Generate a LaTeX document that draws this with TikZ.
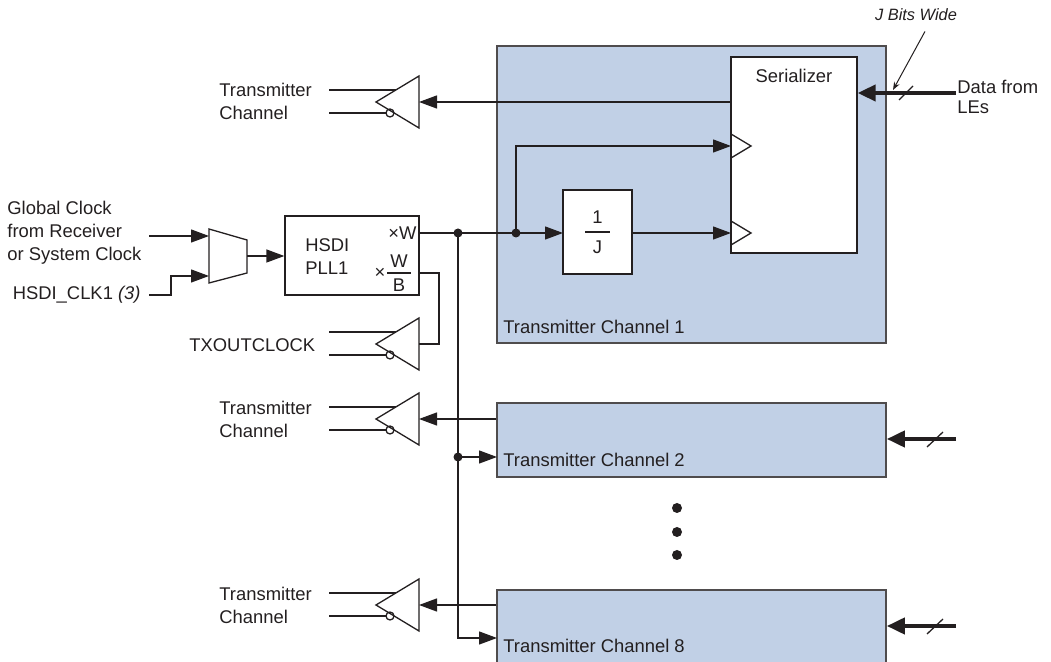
\documentclass[tikz,border=0pt]{standalone}
\usepackage{fontspec}
\setmainfont{Liberation Sans}
\usepackage{tikz}
\usetikzlibrary{shapes,arrows,arrows.meta,calc,positioning}

\definecolor{chblue}{RGB}{193,208,230}
\definecolor{ink}{RGB}{35,31,32}

\begin{document}
\begin{tikzpicture}[x=0.5pt,y=-0.5pt,color=ink,
	every node/.style={font=\fontsize{9.2}{11.5}\selectfont,text=ink,inner sep=0pt},
	wire/.style={draw=ink,line width=0.65pt},
	sig/.style={wire,-{Triangle[length=9pt,width=6.5pt]}},
	bus/.style={draw=ink,line width=2pt,-{Triangle[length=9pt,width=8pt]}},
	chan/.style={draw=ink!80,fill=chblue,line width=0.8pt,minimum width=194.5pt},
	blk/.style={draw=ink,fill=white,line width=0.65pt},
	dot/.style={circle,fill=ink,minimum size=4.5pt}]
	\useasboundingbox (0,0) rectangle (1051,662);
	% channels
	\node[chan,minimum height=148.5pt] (ch1) at (691.5,194.5) {};
	\node[chan,minimum height=37pt] (ch2) at (691.5,440) {};
	\node[chan,minimum height=37pt] (ch8) at (691.5,627) {};
	\node[anchor=west] (ch1lbl) at (503,327) {Transmitter Channel 1};
	\node[anchor=west] (ch2lbl) at (503,460) {Transmitter Channel 2};
	\node[anchor=west] (ch8lbl) at (503,646) {Transmitter Channel 8};
	\foreach \y in {508,532,555}
		\node[dot,minimum size=5pt] (vd\y) at (677,\y) {};
	% serializer and divider
	\node[blk,minimum width=63pt,minimum height=98pt] (ser) at (794,155) {};
	\node (serlbl) at (794,76) {Serializer};
	\foreach \y in {146,233}
		\draw[wire] (731,\y-12) -- (751,\y) -- (731,\y+12);
	\node[blk,minimum width=34.5pt,minimum height=42pt] (div) at (597.5,232) {};
	\node (divn) at (597.5,217) {1};
	\node (divd) at (597.5,247) {J};
	\draw[wire] (585,232) -- (610,232);
	% pll and clock mux
	\node[blk,minimum width=67pt,minimum height=39.5pt] (pll) at (352,255.5) {};
	\node[anchor=west,align=left] (pllname) at (305,257) {HSDI\\PLL1};
	\node[anchor=east] (xw) at (417,233) {×W};
	\node (xwbx) at (380,273) {×};
	\node (xwbn) at (399,261) {W};
	\node (xwbd) at (399,285) {B};
	\draw[wire] (387,273) -- (411,273);
	\coordinate (xwb) at (419,273);
	\draw[wire] (209,229) -- (247,240) -- (247,273) -- (209,283) -- cycle;
	\coordinate (muxa) at (209,236);
	\coordinate (muxb) at (209,276);
	\coordinate (muxo) at (247,256);
	\node[anchor=west,align=left] (gclklbl) at (7,233) {Global Clock\\from Receiver\\or System Clock};
	\node[anchor=east] (hclklbl) at (141,295) {HSDI\_CLK1 \textit{(3)}};
	\coordinate (gclk) at (149,236);
	\coordinate (hclk) at (149,295);
	\draw[sig] (gclk) -- (muxa);
	\draw[sig] (hclk) -- (171,295) |- (muxb);
	\draw[sig] (muxo) -- (muxo -| pll.west);
	% output buffers
	\foreach \b/\y in {bufA/102,bufT/344,bufB/419,bufC/605}{
		\coordinate (\b) at (419,\y);
		\draw[wire,fill=white] (\b) ++(0,-26) -- ++(-43,26) -- ++(43,26) -- cycle;
		\draw[wire] (\b) ++(-90,-12) -- ++(67,0);
		\draw[wire] (\b) ++(-90,11) -- ++(57,0);
		\draw[wire] (\b) ++(-29,11) circle (2pt);
	}
	\node[anchor=west,align=left] (txa) at (219,101) {Transmitter\\Channel};
	\node[anchor=west] (txoc) at (189,345) {TXOUTCLOCK};
	\node[anchor=west,align=left] (txb) at (219,419) {Transmitter\\Channel};
	\node[anchor=west,align=left] (txc) at (219,605) {Transmitter\\Channel};
	% clock distribution
	\coordinate (j1) at (458,233);
	\coordinate (j2) at (516,233);
	\coordinate (j3) at (458,457);
	\coordinate (clka) at (731,146);
	\coordinate (clkb) at (731,233);
	\coordinate (divin) at (563,233);
	\coordinate (divout) at (632,233);
	\coordinate (in2) at (497,457);
	\coordinate (in8) at (497,638);
	\draw[wire] (pll.east |- xw) -- (j1) -- (j2);
	\draw[sig] (j2) -- (divin);
	\draw[sig] (j2) |- (clka);
	\draw[sig] (divout) -- (clkb);
	\draw[sig] (j1) |- (in8);
	\draw[sig] (j3) -- (in2);
	\node[dot] (d1) at (j1) {};
	\node[dot] (d2) at (j2) {};
	\node[dot] (d3) at (j3) {};
	\draw[wire] (xwb) -- ++(20,0) |- (bufT);
	% serial outputs
	\coordinate (serout) at (731,102);
	\draw[sig] (serout) -- (bufA);
	\draw[sig] (ch2.west |- bufB) -- (bufB);
	\draw[sig] (ch8.west |- bufC) -- (bufC);
	% parallel data
	\coordinate (da) at (956,93);
	\coordinate (db) at (956,439);
	\coordinate (dc) at (956,626);
	\draw[bus] (da) -- (ser.east |- da);
	\draw[bus] (db) -- (ch2.east |- db);
	\draw[bus] (dc) -- (ch8.east |- dc);
	\draw[wire] (899,100) -- (913,86);
	\draw[wire] (927,447) -- (943,432);
	\draw[wire] (927,634) -- (943,619);
	\node[anchor=west,align=left,font=\fontsize{9.2}{10}\selectfont] (dlbl) at (957,97) {Data from\\LEs};
	\node[font=\fontsize{8.2}{10}\selectfont\itshape] (jbw) at (916,15) {J Bits Wide};
	\coordinate (jtip) at (893,90);
	\draw[wire,line width=0.5pt,-{Stealth[length=4pt,width=3pt]}] ($(jbw.south)+(9,10)$) -- (jtip);
\end{tikzpicture}
\end{document}
